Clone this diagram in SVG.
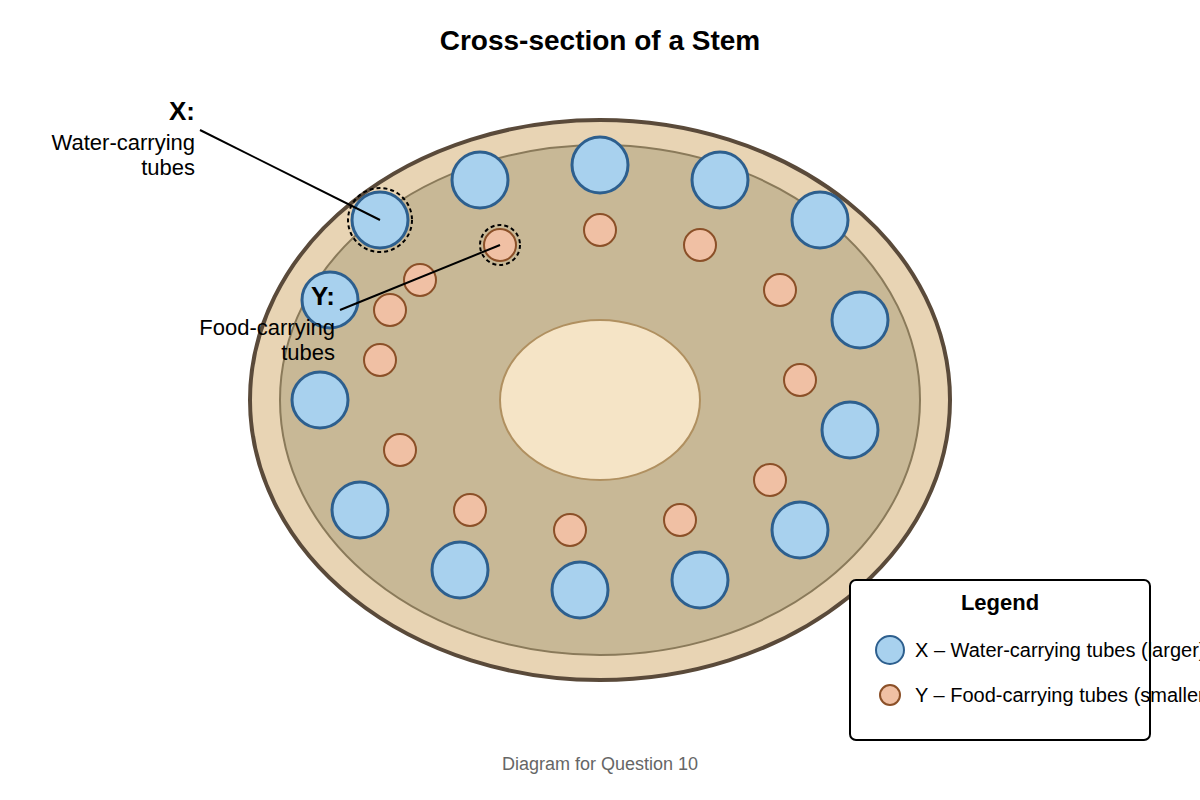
<svg xmlns="http://www.w3.org/2000/svg" width="1200" height="800" viewBox="0 0 1200 800">
<style>
text{font-family:"Liberation Sans",Arial,sans-serif;fill:#000}
.x{fill:#a8d1ee;stroke:#2d5f8e;stroke-width:3}
.y{fill:#f0c0a4;stroke:#8b5028;stroke-width:2}
.hl{fill:none;stroke:#000;stroke-width:2;stroke-dasharray:4 3}
.ln{stroke:#000;stroke-width:2}
</style>
<rect width="1200" height="800" fill="#fff"/>
<text x="600" y="50" font-size="28" font-weight="bold" text-anchor="middle">Cross-section of a Stem</text>
<g id="stem">
<ellipse cx="600" cy="400" rx="350" ry="280" fill="#e8d4b4" stroke="#5a4a3a" stroke-width="4"/>
<ellipse cx="600" cy="400" rx="320" ry="255" fill="#c8b896" stroke="#8a7a5a" stroke-width="2"/>
<ellipse cx="600" cy="400" rx="100" ry="80" fill="#f5e4c6" stroke="#b09060" stroke-width="2"/>
</g>
<g id="water-tubes">
<circle class="x" cx="380" cy="220" r="28"/><circle class="x" cx="480" cy="180" r="28"/><circle class="x" cx="600" cy="165" r="28"/><circle class="x" cx="720" cy="180" r="28"/><circle class="x" cx="820" cy="220" r="28"/><circle class="x" cx="860" cy="320" r="28"/><circle class="x" cx="850" cy="430" r="28"/><circle class="x" cx="800" cy="530" r="28"/><circle class="x" cx="700" cy="580" r="28"/><circle class="x" cx="580" cy="590" r="28"/><circle class="x" cx="460" cy="570" r="28"/><circle class="x" cx="360" cy="510" r="28"/><circle class="x" cx="320" cy="400" r="28"/><circle class="x" cx="330" cy="300" r="28"/>
</g>
<g id="food-tubes">
<circle class="y" cx="500" cy="245" r="16"/><circle class="y" cx="600" cy="230" r="16"/><circle class="y" cx="700" cy="245" r="16"/><circle class="y" cx="780" cy="290" r="16"/><circle class="y" cx="800" cy="380" r="16"/><circle class="y" cx="770" cy="480" r="16"/><circle class="y" cx="680" cy="520" r="16"/><circle class="y" cx="570" cy="530" r="16"/><circle class="y" cx="470" cy="510" r="16"/><circle class="y" cx="400" cy="450" r="16"/><circle class="y" cx="380" cy="360" r="16"/><circle class="y" cx="390" cy="310" r="16"/><circle class="y" cx="420" cy="280" r="16"/>
</g>
<g id="highlights">
<circle class="hl" cx="380" cy="220" r="32"/>
<circle class="hl" cx="500" cy="245" r="20"/>
</g>
<g id="connectors">
<line class="ln" x1="200" y1="130" x2="380" y2="220"/>
<line class="ln" x1="340" y1="310" x2="500" y2="245"/>
</g>
<g id="label-x">
<text x="195" y="120" font-size="26" font-weight="bold" text-anchor="end">X:</text>
<text x="195" y="150" font-size="22" text-anchor="end">Water-carrying</text>
<text x="195" y="175" font-size="22" text-anchor="end">tubes</text>
</g>
<g id="label-y">
<text x="335" y="305" font-size="26" font-weight="bold" text-anchor="end">Y:</text>
<text x="335" y="335" font-size="22" text-anchor="end">Food-carrying</text>
<text x="335" y="360" font-size="22" text-anchor="end">tubes</text>
</g>
<g id="legend">
<rect x="850" y="580" width="300" height="160" rx="6" fill="#fff" stroke="#000" stroke-width="2"/>
<text x="1000" y="610" font-size="22" font-weight="bold" text-anchor="middle">Legend</text>
<circle cx="890" cy="650" r="14" fill="#a8d1ee" stroke="#2d5f8e" stroke-width="2"/>
<text x="915" y="657" font-size="20">X – Water-carrying tubes (larger)</text>
<circle cx="890" cy="695" r="10" fill="#f0c0a4" stroke="#8b5028" stroke-width="2"/>
<text x="915" y="702" font-size="20">Y – Food-carrying tubes (smaller)</text>
</g>
<text x="600" y="770" font-size="18" fill="#666" style="fill:#666" text-anchor="middle">Diagram for Question 10</text>
</svg>
